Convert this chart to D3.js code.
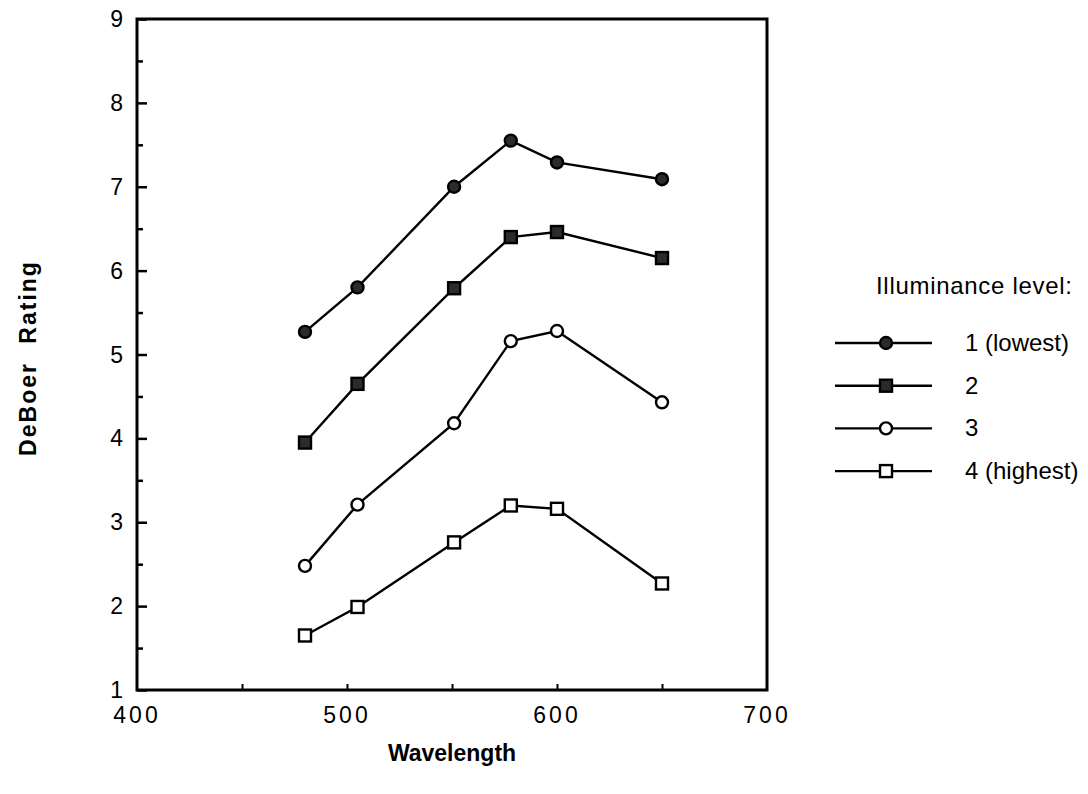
<!DOCTYPE html>
<html>
<head>
<meta charset="UTF-8">
<title>DeBoer rating by wavelength</title>
<script src="https://d3js.org/d3.v7.min.js"></script>
<style>
    body { margin: 0; background: #fff; }
    text { font-family: "Liberation Sans", Arial, sans-serif; fill: #000; }
</style>
</head>
<body>
<svg id="chart" width="1088" height="794"></svg>
<script>
    // data
    const wavelengths = [480, 505, 551, 578, 600, 650];
    const level1 = [5.27, 5.80, 7.00, 7.55, 7.29, 7.09];
    const level2 = [3.95, 4.65, 5.79, 6.40, 6.46, 6.15];
    const level3 = [2.48, 3.21, 4.18, 5.16, 5.28, 4.43];
    const level4 = [1.65, 1.99, 2.76, 3.20, 3.16, 2.27];
    const seriesNames = ["1 (lowest)", "2", "3", "4 (highest)"];
    const xTicks = [400, 500, 600, 700];
    const yTicks = [1, 2, 3, 4, 5, 6, 7, 8, 9];

    const series = [
        {name: seriesNames[0], values: level1, shape: "circle", fill: "#2b2b2b"},
        {name: seriesNames[1], values: level2, shape: "square", fill: "#2b2b2b"},
        {name: seriesNames[2], values: level3, shape: "circle", fill: "#fff"},
        {name: seriesNames[3], values: level4, shape: "square", fill: "#fff"}
    ];

    const svg = d3.select("#chart");
    const plotLeft = 137, plotRight = 767, plotTop = 19, plotBottom = 690;

    const x = d3.scaleLinear().domain([400, 700]).range([plotLeft, plotRight]);
    const y = d3.scaleLinear().domain([1, 9]).range([plotBottom, plotTop]);

    // frame
    svg.append("rect")
        .attr("x", plotLeft).attr("y", plotTop)
        .attr("width", plotRight - plotLeft).attr("height", plotBottom - plotTop)
        .attr("fill", "none").attr("stroke", "#000").attr("stroke-width", 3);

    // y ticks (inward): long at integers, short at halves
    const yMajor = d3.axisRight(y).tickValues(yTicks).tickSize(10).tickFormat("");
    const yMinor = d3.axisRight(y).tickValues(d3.range(1.5, 9, 1)).tickSize(6).tickFormat("");
    [yMajor, yMinor].forEach(ax => {
        svg.append("g").attr("transform", `translate(${plotLeft},0)`).call(ax)
            .call(g => g.select(".domain").remove())
            .call(g => g.selectAll("line").attr("stroke-width", 2.5));
    });

    svg.append("g").selectAll("text").data(yTicks).join("text")
        .attr("x", plotLeft - 14).attr("y", d => y(d) + 8)
        .attr("text-anchor", "end").attr("font-size", 23)
        .text(d => d);

    // x ticks (inward)
    const xAxis = d3.axisTop(x).tickValues([450, 500, 550, 600, 650]).tickSize(6).tickFormat("");
    svg.append("g").attr("transform", `translate(0,${plotBottom})`).call(xAxis)
        .call(g => g.select(".domain").remove())
        .call(g => g.selectAll("line").attr("stroke-width", 2));

    svg.append("g").selectAll("text").data(xTicks).join("text")
        .attr("x", d => x(d)).attr("y", plotBottom + 33)
        .attr("text-anchor", "middle").attr("font-size", 23)
        .attr("letter-spacing", 3)
        .text(d => d);

    // axis titles
    svg.append("text")
        .attr("x", 452).attr("y", 761)
        .attr("text-anchor", "middle").attr("font-size", 23).attr("font-weight", "bold")
        .text("Wavelength");
    svg.append("text")
        .attr("transform", `translate(36,${358}) rotate(-90)`)
        .attr("text-anchor", "middle").attr("font-size", 23).attr("font-weight", "bold")
        .attr("letter-spacing", 2).attr("word-spacing", 10)
        .text("DeBoer Rating");

    const line = d3.line().x((d, i) => x(wavelengths[i])).y(d => y(d));

    function marker(g, s) {
        if (s.shape === "circle") {
            g.append("circle").attr("r", 6)
                .attr("fill", s.fill).attr("stroke", "#000").attr("stroke-width", 2.4);
        } else {
            g.append("rect").attr("x", -6).attr("y", -6).attr("width", 12).attr("height", 12)
                .attr("fill", s.fill).attr("stroke", "#000").attr("stroke-width", 2.4);
        }
    }

    series.forEach(s => {
        svg.append("path").datum(s.values)
            .attr("d", line).attr("fill", "none")
            .attr("stroke", "#000").attr("stroke-width", 2.4);
        s.values.forEach((v, i) => {
            const g = svg.append("g").attr("transform", `translate(${x(wavelengths[i])},${y(v)})`);
            marker(g, s);
        });
    });

    // legend
    const legend = svg.append("g");
    legend.append("text").attr("x", 876).attr("y", 294)
        .attr("font-size", 24).attr("textLength", 196).text("Illuminance level:");
    series.forEach((s, i) => {
        const ly = 343 + i * 42.7;
        legend.append("line").attr("x1", 835).attr("x2", 932).attr("y1", ly).attr("y2", ly)
            .attr("stroke", "#000").attr("stroke-width", 2.4);
        const g = legend.append("g").attr("transform", `translate(886,${ly})`);
        marker(g, s);
        legend.append("text").attr("x", 965).attr("y", ly + 8)
            .attr("font-size", 24).text(s.name);
    });
</script>
</body>
</html>
